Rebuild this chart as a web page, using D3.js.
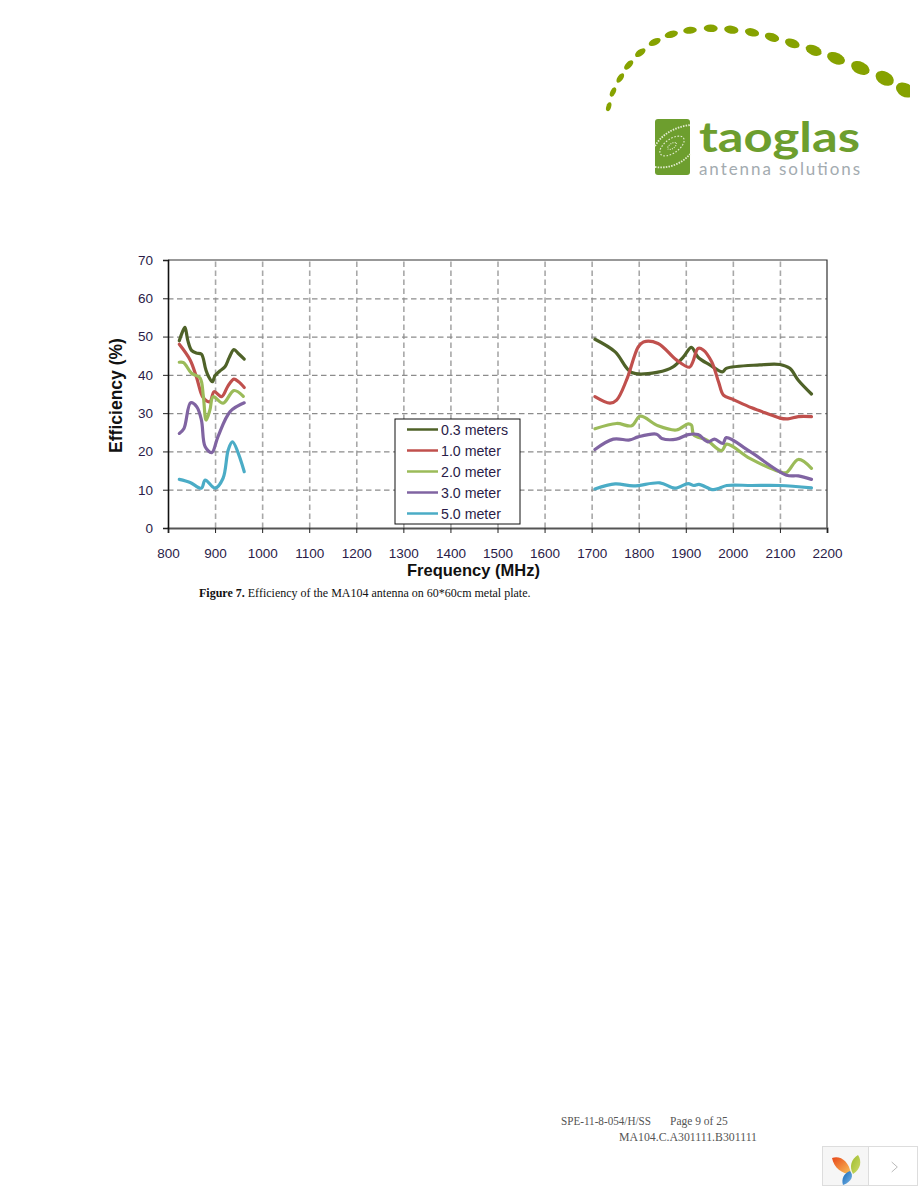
<!DOCTYPE html>
<html>
<head>
<meta charset="utf-8">
<script src="https://cdn.jsdelivr.net/npm/d3@7"></script>
<style>
  html, body { margin: 0; padding: 0; background: #fff; }
  svg { display: block; }
  text { font-family: "Liberation Sans", Arial, sans-serif; }
  .serif { font-family: "Liberation Serif", "Times New Roman", serif; }
</style>
</head>
<body>
<div id="chart"></div>
<script>
const xTicks = [800, 900, 1000, 1100, 1200, 1300, 1400, 1500, 1600, 1700, 1800, 1900, 2000, 2100, 2200];
const yTicks = [0, 10, 20, 30, 40, 50, 60, 70];
const seriesNames = ['0.3 meters', '1.0 meter', '2.0 meter', '3.0 meter', '5.0 meter'];
const seriesColors = ['#4f6228', '#c0504d', '#9bbb59', '#8064a2', '#4bacc6'];

const low03 = [[824, 48.9], [830, 51], [836, 52.4], [842, 49], [850, 46.4], [860, 45.7], [871, 45.4], [880, 41.5], [886, 39.6], [894, 38.2], [900, 39.8], [910, 41], [921, 42.1], [930, 44.5], [940, 46.6], [950, 45.5], [962, 44.1]];
const high03 = [[1707, 49.3], [1750, 46], [1785, 40.6], [1841, 40.7], [1873, 42.1], [1895, 44.7], [1912, 47.2], [1926, 44.6], [1951, 42.6], [1978, 40.8], [1986, 41.7], [2057, 42.6], [2100, 42.7], [2121, 41.7], [2139, 38.6], [2167, 35]];
const low10 = [[824, 48], [847, 43.9], [861, 39.2], [875, 34], [889, 33], [898, 35.6], [914, 34.3], [927, 37], [940, 38.9], [950, 38.2], [962, 36.7]];
const high10 = [[1707, 34.3], [1739, 32.6], [1753, 33.4], [1774, 38.6], [1799, 47.3], [1810, 48.6], [1841, 48.2], [1880, 43.9], [1908, 42], [1915, 43.4], [1926, 46.9], [1937, 46.5], [1955, 43.4], [1970, 38], [1980, 34.7], [2000, 33.6], [2040, 31.4], [2080, 29.6], [2100, 28.7], [2117, 28.5], [2139, 29.1], [2167, 29.1]];
const low20 = [[824, 43.3], [833, 43.2], [850, 40.4], [868, 39.2], [875, 34.5], [881, 28.2], [889, 30.8], [896, 34.3], [917, 32.6], [940, 35.9], [960, 34.4]];
const high20 = [[1707, 25.9], [1753, 27.3], [1785, 26.7], [1803, 29.2], [1841, 26.7], [1880, 25.6], [1905, 27.2], [1912, 26.9], [1917, 24.3], [1944, 23], [1976, 20.2], [1987, 21.9], [2036, 18.2], [2100, 14.7], [2114, 14.5], [2139, 17.9], [2167, 15.6]];
const low30 = [[824, 24.7], [834, 26], [848, 32.7], [861, 31.7], [871, 28.2], [879, 21.2], [893, 19.7], [906, 23.8], [932, 30.4], [962, 32.7]];
const high30 = [[1707, 20.5], [1746, 23.2], [1781, 23], [1799, 23.8], [1838, 24.5], [1849, 23.4], [1880, 23.2], [1905, 24.4], [1926, 24.4], [1947, 22.5], [1961, 23.2], [1979, 22.1], [1986, 23.6], [2036, 20], [2114, 13.8], [2139, 13.6], [2167, 12.7]];
const low50 = [[824, 12.7], [847, 11.9], [871, 10.4], [879, 12.5], [900, 10.4], [917, 13], [928, 20.4], [937, 22.5], [962, 14.7]];
const high50 = [[1707, 10.2], [1750, 11.5], [1789, 11], [1845, 11.8], [1877, 10.4], [1905, 11.6], [1917, 11.1], [1928, 11.4], [1958, 10], [1971, 10.4], [1987, 11.1], [2040, 11.1], [2100, 11.1], [2167, 10.5]];

const bands = [[low03, high03], [low10, high10], [low20, high20], [low30, high30], [low50, high50]];

const width = 918;
const height = 1188;
const margin = { top: 260, left: 168 };
const plotW = 659;
const plotH = 268;
const labelColor = '#2a1c48';

const svg = d3.select('#chart').append('svg')
  .attr('width', width)
  .attr('height', height);

const x = d3.scaleLinear().domain([800, 2200]).range([0, plotW]);
const y = d3.scaleLinear().domain([0, 70]).range([plotH, 0]);

const g = svg.append('g').attr('transform', `translate(${margin.left},${margin.top})`);

// Grid
const xGrid = g.append('g')
  .attr('transform', `translate(0,${plotH})`)
  .call(d3.axisBottom(x).tickValues(xTicks.slice(1, -1)).tickSize(-plotH).tickFormat(''));
xGrid.selectAll('line').attr('stroke', '#a8a8a8').attr('stroke-width', 1.6);
const yGrid = g.append('g')
  .call(d3.axisLeft(y).tickValues(yTicks.slice(1, -1)).tickSize(-plotW).tickFormat(''));
yGrid.selectAll('line').attr('stroke', '#8c8c8c').attr('stroke-width', 1.2);
[xGrid, yGrid].forEach(a => {
  a.select('.domain').remove();
  a.selectAll('line').attr('stroke-dasharray', '5.5,3.5');
});

// Frame: top and right
g.append('path')
  .attr('d', `M0,0H${plotW}V${plotH}`)
  .attr('fill', 'none').attr('stroke', '#333').attr('stroke-width', 1.2);

// Axes
const xAxis = g.append('g')
  .attr('transform', `translate(0,${plotH})`)
  .call(d3.axisBottom(x).tickValues(xTicks).tickSize(5).tickPadding(15).tickFormat(d3.format('d')));
const yAxis = g.append('g')
  .call(d3.axisLeft(y).tickValues(yTicks).tickSize(5).tickPadding(10));
xAxis.select('.domain').attr('stroke', '#555').attr('stroke-width', 2);
yAxis.select('.domain').attr('stroke', '#111').attr('stroke-width', 1.6);
[xAxis, yAxis].forEach(a => {
  a.selectAll('line').attr('stroke', '#222');
  a.selectAll('text').attr('font-size', 13.5).attr('fill', labelColor)
    .style('font-family', '"Liberation Sans", Arial, sans-serif');
});

// Curves
const line = d3.line()
  .x(d => x(d[0]))
  .y(d => y(d[1]))
  .curve(d3.curveCatmullRom.alpha(0.5));

bands.forEach((pair, i) => {
  pair.forEach(band => {
    g.append('path')
      .attr('d', line(band))
      .attr('fill', 'none')
      .attr('stroke', seriesColors[i])
      .attr('stroke-width', 3.2)
      .attr('stroke-linejoin', 'round')
      .attr('stroke-linecap', 'round');
  });
});

// Axis titles
svg.append('text')
  .attr('x', 473.5).attr('y', 576)
  .attr('text-anchor', 'middle')
  .attr('font-size', 16.5).attr('font-weight', 'bold').attr('fill', '#111')
  .text('Frequency (MHz)');
svg.append('text')
  .attr('transform', 'translate(122,395.5) rotate(-90)')
  .attr('text-anchor', 'middle')
  .attr('font-size', 17.5).attr('font-weight', 'bold').attr('fill', '#111')
  .text('Efficiency (%)');

// Legend
const legend = svg.append('g').attr('transform', 'translate(395,419)');
legend.append('rect')
  .attr('width', 125).attr('height', 105)
  .attr('fill', '#fff').attr('stroke', '#111');
const rows = legend.selectAll('g')
  .data(seriesNames)
  .enter().append('g')
  .attr('transform', (d, i) => `translate(0,${10.5 + i * 21})`);
rows.append('line')
  .attr('x1', 12).attr('x2', 43)
  .attr('stroke', (d, i) => seriesColors[i])
  .attr('stroke-width', 2.5);
rows.append('text')
  .attr('x', 46).attr('y', 5)
  .attr('font-size', 14.2).attr('fill', labelColor)
  .text(d => d);

// Caption
const caption = svg.append('text')
  .attr('class', 'serif')
  .attr('x', 199).attr('y', 597)
  .attr('font-size', 12).attr('fill', '#111');
caption.append('tspan').attr('font-weight', 'bold').text('Figure 7.');
caption.append('tspan').text(' Efficiency of the MA104 antenna on 60*60cm metal plate.');

// Footer
svg.append('text').attr('class', 'serif')
  .attr('x', 561).attr('y', 1125)
  .attr('textLength', 90).attr('lengthAdjust', 'spacingAndGlyphs')
  .attr('font-size', 11.5).attr('fill', '#555')
  .text('SPE-11-8-054/H/SS');
svg.append('text').attr('class', 'serif')
  .attr('x', 670).attr('y', 1125)
  .attr('font-size', 11.5).attr('fill', '#555')
  .text('Page 9 of 25');
svg.append('text').attr('class', 'serif')
  .attr('x', 619).attr('y', 1141)
  .attr('textLength', 138).attr('lengthAdjust', 'spacingAndGlyphs')
  .attr('font-size', 11.5).attr('fill', '#555')
  .text('MA104.C.A301111.B301111');

// Logo
const logoGreen = '#6d9e2e';
const defs = svg.append('defs');
defs.append('clipPath').attr('id', 'logoEdge').append('rect')
  .attr('x', 590).attr('y', 0).attr('width', 320).attr('height', 120);
[['leafOrange', '#e8481a', '#f9c35a'], ['leafGreen', '#9dbb2c', '#cfdc6a'], ['leafBlue', '#1266b8', '#7db8e6']].forEach(l => {
  const grad = defs.append('linearGradient').attr('id', l[0]).attr('x1', 0).attr('y1', 0).attr('x2', 1).attr('y2', 1);
  grad.append('stop').attr('offset', '0%').attr('stop-color', l[1]);
  grad.append('stop').attr('offset', '100%').attr('stop-color', l[2]);
});

const arcDots = [
  [608.7, 106.7, 2.4, 4.6, 18], [613, 92, 2.6, 5, 25], [620.3, 78, 2.8, 5.4, 35], [628.7, 65, 3, 5.8, 45],
  [640.3, 52.7, 3.2, 6, 55], [654.7, 42, 3.3, 6.4, 65], [671.3, 34.3, 3.5, 6.8, 75], [690, 30.3, 3.5, 6.8, 85],
  [710.7, 28.3, 3.8, 7, 92], [731.3, 29.7, 4, 7.2, 98], [752, 32.3, 4, 7.2, 103], [772, 37.3, 4.2, 7.4, 108],
  [792.3, 43.3, 4.4, 7.6, 110], [813.7, 50.3, 5, 8.4, 112], [836, 58.3, 5.6, 9.4, 113], [860.3, 68, 6.2, 9.8, 116],
  [884.7, 78.3, 6.6, 9.8, 118], [905, 90, 6.8, 9.6, 120]
];
svg.append('g')
  .attr('clip-path', 'url(#logoEdge)')
  .selectAll('ellipse')
  .data(arcDots)
  .enter().append('ellipse')
  .attr('rx', d => d[2]).attr('ry', d => d[3])
  .attr('transform', d => `translate(${d[0]},${d[1]}) rotate(${d[4]})`)
  .attr('fill', '#86a200');

svg.append('rect')
  .attr('x', 655).attr('y', 119).attr('width', 35).attr('height', 56).attr('rx', 3)
  .attr('fill', logoGreen);
['M655,146 C662,134 675,127 690,125', 'M655,167 C668,169 682,164 690,154'].forEach(d => {
  svg.append('path')
    .attr('d', d)
    .attr('fill', 'none').attr('stroke', '#e4edd2').attr('stroke-width', 1.8)
    .attr('stroke-dasharray', '1.5,1.2');
});
[[14, 7, '1.6,1.6'], [5, 2.5, '1,1.2']].forEach(r => {
  svg.append('ellipse')
    .attr('rx', r[0]).attr('ry', r[1])
    .attr('transform', 'translate(672,146) rotate(-35)')
    .attr('fill', 'none').attr('stroke', '#e4edd2').attr('stroke-width', 1.1)
    .attr('stroke-dasharray', r[2]);
});
svg.append('text')
  .attr('x', 699).attr('y', 152)
  .attr('textLength', 161).attr('lengthAdjust', 'spacingAndGlyphs')
  .attr('font-size', 42).attr('font-weight', 'bold').attr('fill', logoGreen)
  .style('font-family', 'Lato, sans-serif')
  .text('taoglas');
svg.append('text')
  .attr('x', 699).attr('y', 175)
  .attr('textLength', 161).attr('lengthAdjust', 'spacing')
  .attr('font-size', 17).attr('fill', '#a3abb0')
  .style('font-family', 'Lato, sans-serif')
  .text('antenna solutions');

// Viewer widget bottom right
svg.append('rect').attr('x', 822.5).attr('y', 1146.5).attr('width', 46).attr('height', 39)
  .attr('fill', '#f6f6f6').attr('stroke', '#ddd');
svg.append('rect').attr('x', 868.5).attr('y', 1146.5).attr('width', 49).attr('height', 39)
  .attr('fill', '#fff').attr('stroke', '#ddd');
svg.append('path').attr('d', 'M832,1158 C840,1155 849,1161 851,1174 C842,1174 834,1168 832,1158 Z').attr('fill', 'url(#leafOrange)');
svg.append('path').attr('d', 'M858,1155 C862,1161 861,1169 853,1174 C849,1167 851,1159 858,1155 Z').attr('fill', 'url(#leafGreen)');
svg.append('path').attr('d', 'M850,1171 C854,1175 852,1182 843,1185 C841,1179 844,1173 850,1171 Z').attr('fill', 'url(#leafBlue)');
svg.append('path').attr('d', 'M891.7,1162 L897.3,1167 L891.7,1172').attr('fill', 'none').attr('stroke', '#bbb');
</script>
</body>
</html>
